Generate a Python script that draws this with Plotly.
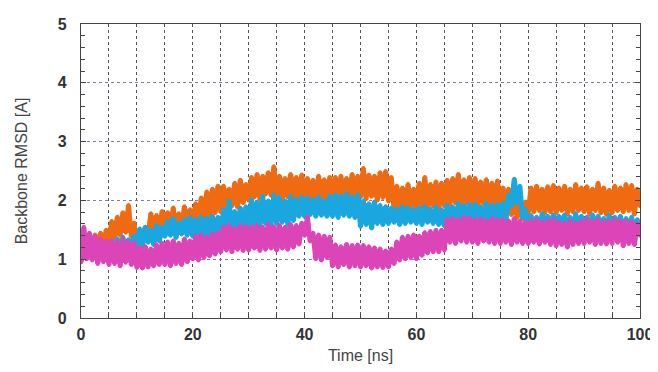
import plotly.graph_objects as go

time_ns = [i * 0.5 for i in range(201)]

rmsd_orange = [
    0.95, 1.25, 1.00, 1.30, 1.10, 1.42, 1.12, 1.45, 1.20, 1.50,
    1.30, 1.65, 1.35, 1.72, 1.40, 1.80, 1.45, 1.92, 1.38, 1.62,
    1.18, 1.48, 1.22, 1.55, 1.40, 1.78, 1.42, 1.75, 1.48, 1.82,
    1.45, 1.80, 1.50, 1.88, 1.46, 1.78, 1.52, 1.90, 1.55, 1.85,
    1.60, 1.95, 1.65, 2.05, 1.70, 2.15, 1.68, 2.20, 1.78, 2.25,
    1.80, 2.25, 1.85, 2.20, 1.90, 2.30, 1.88, 2.35, 1.95, 2.28,
    2.00, 2.40, 2.05, 2.45, 2.02, 2.42, 2.10, 2.48, 2.08, 2.58,
    2.02, 2.42, 2.00, 2.38, 2.05, 2.45, 1.98, 2.40, 2.03, 2.44,
    1.98, 2.38, 2.02, 2.35, 1.96, 2.42, 2.00, 2.36, 1.98, 2.40,
    2.00, 2.40, 1.98, 2.42, 2.02, 2.38, 2.00, 2.45, 2.04, 2.42,
    2.05, 2.55, 2.02, 2.44, 2.06, 2.42, 2.00, 2.48, 2.04, 2.50,
    1.98, 2.40, 1.85, 2.25, 1.82, 2.22, 1.80, 2.28, 1.85, 2.20,
    1.88, 2.30, 1.90, 2.40, 1.86, 2.28, 1.90, 2.32, 1.85, 2.30,
    1.90, 2.35, 1.92, 2.38, 1.95, 2.45, 1.92, 2.36, 1.95, 2.40,
    1.92, 2.38, 1.90, 2.32, 1.94, 2.36, 1.90, 2.30, 1.88, 2.34,
    1.80, 2.22, 1.78, 2.20, 1.75, 2.10, 1.70, 2.05, 1.68, 1.98,
    1.78, 2.22, 1.80, 2.25, 1.82, 2.20, 1.78, 2.24, 1.80, 2.26,
    1.78, 2.22, 1.82, 2.25, 1.76, 2.20, 1.80, 2.28, 1.82, 2.22,
    1.80, 2.24, 1.76, 2.20, 1.82, 2.30, 1.78, 2.22, 1.75, 2.18,
    1.78, 2.25, 1.82, 2.22, 1.80, 2.28, 1.82, 2.26, 1.76, 2.20,
    1.90,
]

rmsd_cyan = [
    1.02, 1.28, 1.05, 1.30, 1.00, 1.25, 1.06, 1.32, 1.04, 1.28,
    1.05, 1.32, 1.08, 1.35, 1.10, 1.38, 1.06, 1.34, 1.12, 1.40,
    1.22, 1.52, 1.25, 1.55, 1.28, 1.50, 1.24, 1.58, 1.30, 1.55,
    1.38, 1.65, 1.40, 1.70, 1.36, 1.62, 1.42, 1.68, 1.40, 1.72,
    1.38, 1.68, 1.36, 1.72, 1.40, 1.70, 1.38, 1.74, 1.42, 1.72,
    1.40, 1.85, 1.45, 2.00, 1.48, 1.82, 1.42, 1.88, 1.50, 1.90,
    1.55, 2.02, 1.58, 1.98, 1.55, 2.08, 1.60, 2.00, 1.58, 2.10,
    1.60, 2.05, 1.62, 2.00, 1.58, 2.08, 1.65, 2.02, 1.72, 2.06,
    1.72, 2.05, 1.75, 2.02, 1.72, 2.06, 1.74, 2.00, 1.72, 2.08,
    1.72, 2.10, 1.70, 2.08, 1.74, 2.12, 1.72, 2.06, 1.70, 2.10,
    1.55, 2.00, 1.58, 1.95, 1.52, 1.98, 1.60, 1.92, 1.58, 1.90,
    1.60, 1.88, 1.62, 1.86, 1.58, 1.90, 1.60, 1.88, 1.62, 1.85,
    1.60, 1.88, 1.58, 1.90, 1.62, 1.86, 1.60, 1.89, 1.58, 1.85,
    1.56, 1.92, 1.58, 1.90, 1.55, 1.95, 1.60, 1.92, 1.58, 1.94,
    1.56, 1.94, 1.58, 1.90, 1.55, 1.95, 1.60, 1.92, 1.58, 1.94,
    1.60, 1.96, 1.62, 2.10, 1.90, 2.37, 1.95, 2.25, 1.70, 1.85,
    1.45, 1.75, 1.48, 1.72, 1.44, 1.78, 1.46, 1.74, 1.42, 1.76,
    1.44, 1.74, 1.46, 1.76, 1.40, 1.72, 1.45, 1.78, 1.42, 1.74,
    1.40, 1.72, 1.44, 1.76, 1.38, 1.74, 1.42, 1.70, 1.40, 1.75,
    1.36, 1.72, 1.40, 1.74, 1.30, 1.70, 1.38, 1.72, 1.35, 1.68,
    1.45,
]

rmsd_magenta = [
    0.95, 1.55, 1.00, 1.45, 0.98, 1.40, 0.92, 1.35, 0.95, 1.32,
    0.90, 1.32, 0.92, 1.30, 0.88, 1.35, 0.94, 1.30, 0.90, 1.28,
    0.85, 1.20, 0.84, 1.22, 0.86, 1.18, 0.88, 1.25, 0.90, 1.28,
    0.90, 1.30, 0.88, 1.32, 0.92, 1.28, 0.90, 1.35, 0.95, 1.32,
    1.00, 1.40, 0.98, 1.42, 1.02, 1.38, 1.05, 1.44, 1.08, 1.45,
    1.12, 1.55, 1.15, 1.58, 1.12, 1.52, 1.16, 1.58, 1.14, 1.56,
    1.15, 1.56, 1.18, 1.58, 1.14, 1.55, 1.16, 1.60, 1.18, 1.56,
    1.15, 1.58, 1.18, 1.55, 1.16, 1.60, 1.20, 1.58, 1.25, 1.62,
    1.40, 1.72, 1.30, 1.45, 1.00, 1.42, 0.98, 1.40, 1.02, 1.38,
    0.88, 1.25, 0.86, 1.22, 0.90, 1.26, 0.86, 1.24, 0.88, 1.25,
    0.86, 1.24, 0.88, 1.22, 0.84, 1.20, 0.86, 1.18, 0.85, 1.15,
    0.86, 1.18, 0.92, 1.30, 0.98, 1.38, 1.00, 1.40, 1.02, 1.42,
    1.00, 1.40, 1.06, 1.46, 1.10, 1.48, 1.12, 1.50, 1.12, 1.50,
    1.15, 1.68, 1.28, 1.70, 1.26, 1.68, 1.30, 1.72, 1.28, 1.70,
    1.28, 1.68, 1.26, 1.70, 1.30, 1.66, 1.28, 1.70, 1.26, 1.68,
    1.26, 1.68, 1.28, 1.66, 1.24, 1.70, 1.28, 1.66, 1.26, 1.64,
    1.26, 1.66, 1.28, 1.68, 1.25, 1.64, 1.28, 1.66, 1.24, 1.68,
    1.22, 1.64, 1.24, 1.62, 1.20, 1.66, 1.24, 1.62, 1.26, 1.66,
    1.26, 1.68, 1.28, 1.66, 1.24, 1.68, 1.26, 1.64, 1.25, 1.66,
    1.26, 1.68, 1.28, 1.66, 1.22, 1.66, 1.26, 1.64, 1.24, 1.62,
    1.40,
]

x_ticks = [0, 20, 40, 60, 80, 100]
y_ticks = [0, 1, 2, 3, 4, 5]

series = [
    ("orange", rmsd_orange, "#F06A12"),
    ("cyan", rmsd_cyan, "#1AA7E0"),
    ("magenta", rmsd_magenta, "#DC45B8"),
]

fig = go.Figure()
for name, ys, col in series:
    fig.add_trace(go.Scatter(
        x=time_ns, y=ys, name=name, mode="lines+markers",
        line=dict(color=col, width=5),
        marker=dict(color=col, size=4),
        showlegend=False,
    ))

tickfont = dict(family="Liberation Sans, Arial, sans-serif", size=16, color="#333333")

fig.update_layout(
    width=650, height=364,
    margin=dict(l=73, r=18, t=16, b=54),
    paper_bgcolor="white", plot_bgcolor="white",
    font=dict(family="Liberation Sans, Arial, sans-serif"),
)
fig.update_xaxes(
    automargin=False,
    range=[0, 100], tickvals=x_ticks, ticktext=[f"<b>{v}</b>" for v in x_ticks],
    tickfont=tickfont, ticks="inside", ticklen=5, tickcolor="#444",
    ticklabelstandoff=2,
    showgrid=True, gridcolor="#555555", griddash="dot", gridwidth=1,
    minor=dict(tickmode="linear", tick0=0, dtick=5, ticks="inside", ticklen=5,
               tickcolor="#444", showgrid=True, gridcolor="#555555", griddash="dot"),
    showline=True, linecolor="#444444", linewidth=1.2, mirror=True,
    zeroline=False,
    title=dict(text="Time [ns]", font=dict(size=16, color="#444444"), standoff=7),
)
fig.update_yaxes(
    automargin=False,
    range=[0, 5], tickvals=y_ticks, ticktext=[f"<b>{v}</b>" for v in y_ticks],
    tickfont=tickfont, ticks="inside", ticklen=5, tickcolor="#444",
    ticklabelstandoff=10,
    showgrid=True, gridcolor="#7f7fa8", griddash="dot", gridwidth=1,
    minor=dict(tickmode="linear", tick0=0, dtick=0.2, ticks="inside", ticklen=4,
               tickcolor="#444", showgrid=False),
    showline=True, linecolor="#444444", linewidth=1.2, mirror="ticks",
    zeroline=False,
    title=dict(text="Backbone RMSD [A]", font=dict(size=16, color="#444444"), standoff=26),
)

fig.write_html("out.html")
